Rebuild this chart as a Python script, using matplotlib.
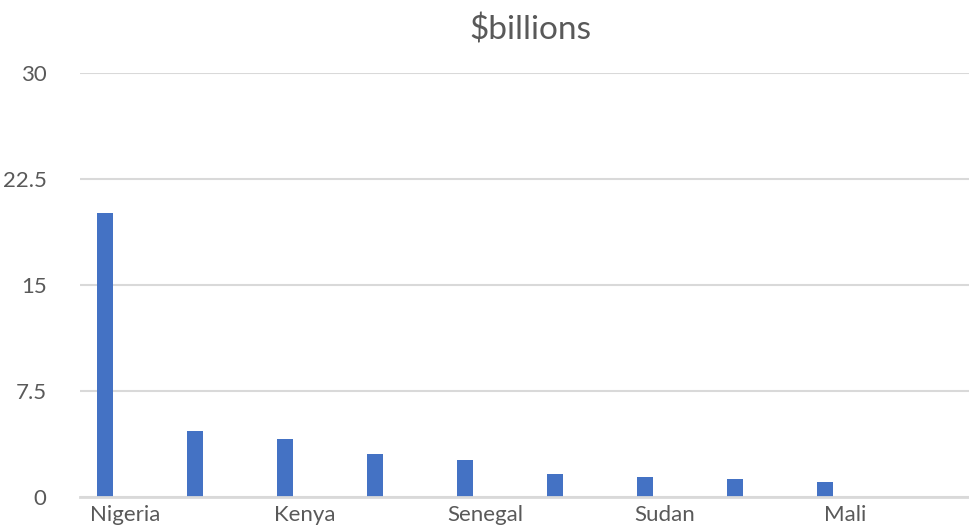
import matplotlib
matplotlib.use('Agg')
import matplotlib.pyplot as plt
import numpy as np

# categories (Excel only shows every other label)
countries = ['Nigeria', '', 'Kenya', '', 'Senegal', '', 'Sudan', '', 'Mali', '']
values = [20.1, 4.65, 4.1, 3.05, 2.65, 1.65, 1.45, 1.25, 1.05, 0]
yticks = [0, 7.5, 15, 22.5, 30]
ytick_labels = ['0', '7.5', '15', '22.5', '30']

plt.rcParams['font.family'] = ['Lato', 'DejaVu Sans']

fig = plt.figure(figsize=(9.7, 5.31), dpi=100)
# axes runs a bit past the right edge, like the cropped screenshot
ax = fig.add_axes([80/970, 34/531, 900/970, 424/531])

x = np.arange(len(countries))
ax.bar(x - 0.222, values, width=0.178, color='#4472C4', zorder=3)

ax.set_xlim(-0.5, len(countries) - 0.5)
ax.set_ylim(0, 30)
ax.set_yticks(yticks)
ax.set_yticklabels(ytick_labels)
ax.set_xticks(x)
ax.set_xticklabels(countries)

ax.grid(axis='y', color='#D9D9D9', linewidth=1.5, zorder=0)
for s in ['top', 'right', 'left']:
    ax.spines[s].set_visible(False)
ax.spines['bottom'].set_color('#D9D9D9')
ax.spines['bottom'].set_linewidth(2)
ax.spines['bottom'].set_zorder(4)
ax.tick_params(axis='both', length=0, colors='#595959', labelsize=16)
ax.tick_params(axis='y', pad=24)
ax.tick_params(axis='x', pad=6)

fig.text(530/970, 1 - 30/531, '$billions', ha='center', va='center',
         fontsize=24, color='#595959')

fig.savefig('out.png', dpi=100)
